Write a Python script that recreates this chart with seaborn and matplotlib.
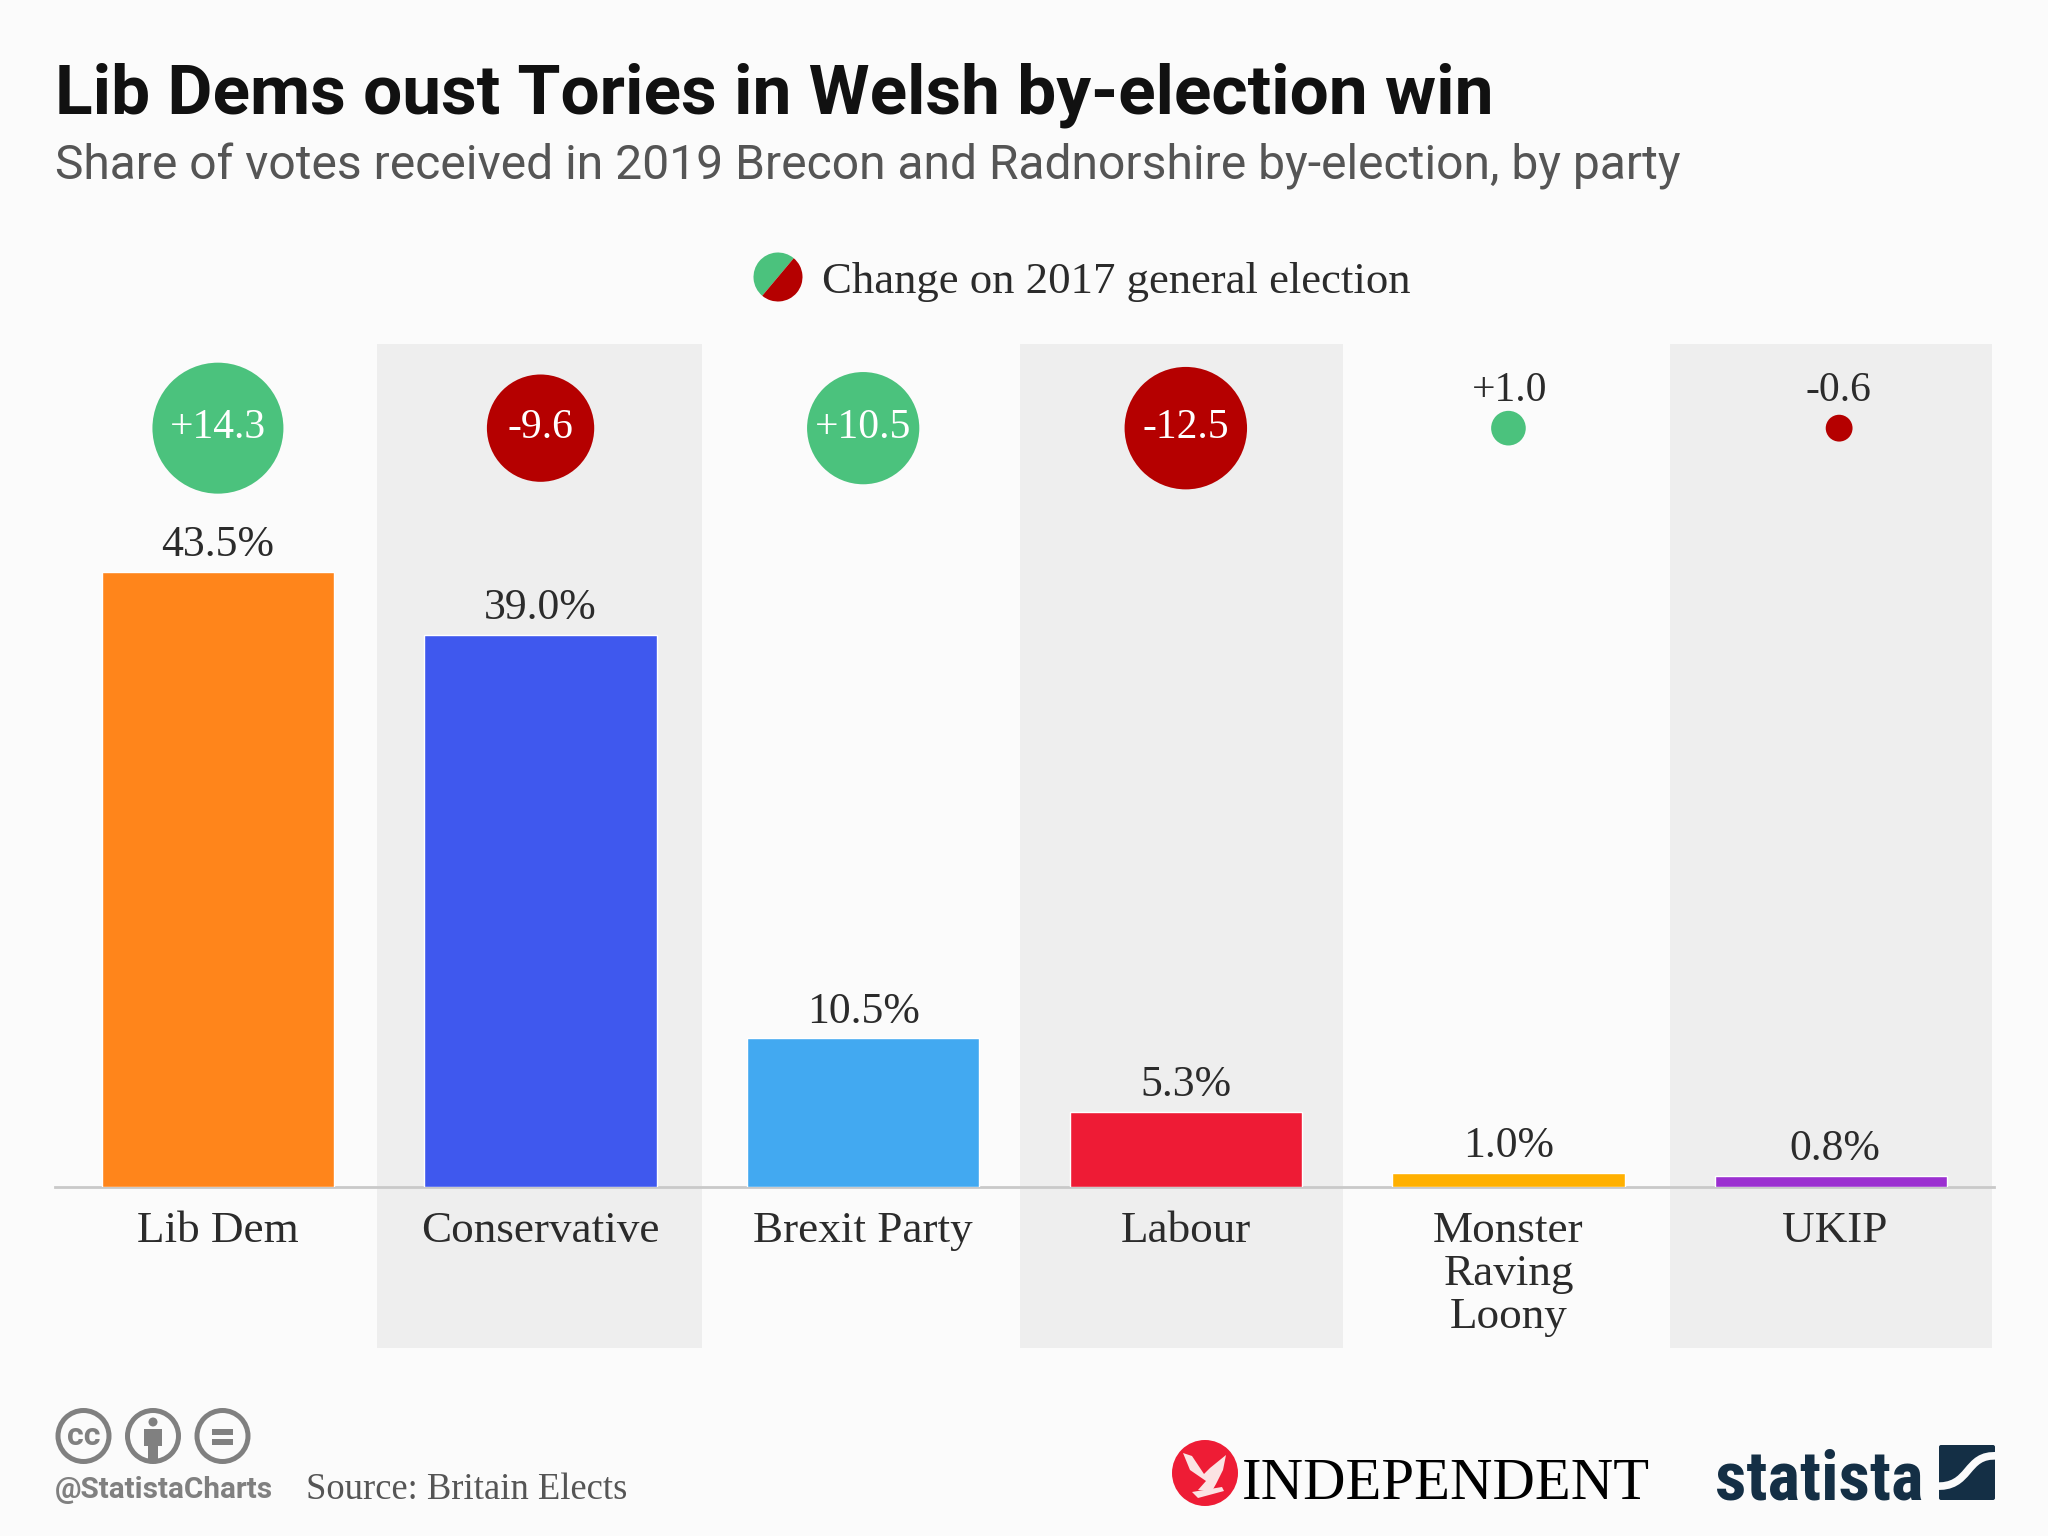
import numpy as np
import pandas as pd
import matplotlib
matplotlib.use('Agg')
import matplotlib.pyplot as plt
from matplotlib.patches import Circle, Wedge, FancyBboxPatch, PathPatch, Polygon, Rectangle
from matplotlib.path import Path
from matplotlib.transforms import ScaledTranslation
import seaborn as sns

parties = ['Lib Dem', 'Conservative', 'Brexit Party', 'Labour', 'Monster\nRaving\nLoony', 'UKIP']
shares = [43.5, 39.0, 10.5, 5.3, 1.0, 0.8]
changes = [14.3, -9.6, 10.5, -12.5, 1.0, -0.6]
change_labels = ['+14.3', '-9.6', '+10.5', '-12.5', '+1.0', '-0.6']
bar_colors = ['#ff851b', '#3f58ee', '#42a9f1', '#ee1b35', '#ffb000', '#9b30d0']

GREEN = '#4bc27d'
DARKRED = '#b50000'
BG = '#fbfbfb'
BAND = '#eeeeee'
TEXT = '#2b2b2b'
SERIF = ['Liberation Serif', 'DejaVu Serif']
SANS = ['Roboto', 'DejaVu Sans']
BUBBLE_Y = 53.65

sns.set_style('white')
plt.rcParams['font.family'] = SERIF

df = pd.DataFrame({'party': parties, 'share': shares, 'change': changes})
df['abs_change'] = df['change'].abs()
df['bubble_y'] = BUBBLE_Y
df['up'] = df['change'] > 0

W, H = 2048, 1536
fig = plt.figure(figsize=(W / 100, H / 100), dpi=100, facecolor=BG)

# plot area, baseline of the bars is the bottom spine
ax = fig.add_axes([55 / W, 1 - 1187 / H, (1994 - 55) / W, (1187 - 344) / H])
ax.set_facecolor('none')

sns.barplot(data=df, x='party', y='share', hue='party', palette=bar_colors, saturation=1,
            width=0.72, legend=False, ax=ax, zorder=3)
ax.set_xlim(-0.505, 5.505)
ax.set_ylim(0, 59.6)

# grey stripes behind every second party, they run past the baseline
for left, right in [(0.494, 1.5), (2.486, 3.486), (4.5, 5.5)]:
    ax.axvspan(left, right, ymin=-0.191, ymax=1, color=BAND, lw=0, zorder=0, clip_on=False)

for c in ax.containers:
    labs = ax.bar_label(c, fmt='%.1f%%', padding=5, fontsize=31.5, color=TEXT, zorder=5)
labs[0].xyann = (3, labs[0].xyann[1])  # UKIP label sits a bit right of its bar

# bubble area follows the size of the change
sns.scatterplot(data=df, x='party', y='bubble_y', hue='up', palette={True: GREEN, False: DARKRED},
                size='abs_change', sizes=(622 * 0.6, 622 * 14.3), size_norm=(0.6, 14.3),
                linewidth=0, legend=False, ax=ax, zorder=4, clip_on=False)
offs = ax.collections[-1].get_offsets().copy()
offs[5, 0] += 0.025
ax.collections[-1].set_offsets(offs)

for i, (lab, val) in enumerate(zip(change_labels, changes)):
    if abs(val) > 5:
        ax.annotate(lab, (i, BUBBLE_Y), ha='center', va='center', fontsize=30, color='white', zorder=6)
    else:
        ax.annotate(lab, (i + (0.02 if i == 5 else 0), BUBBLE_Y), xytext=(1, 27), textcoords='offset points',
                    ha='center', va='center', fontsize=30, color=TEXT, zorder=6)

ax.set_xlabel('')
ax.set_ylabel('')
ax.set_yticks([])
ax.tick_params(axis='x', length=0, pad=17, labelsize=32.5, labelcolor=TEXT)
for lab in ax.get_xticklabels():
    lab.set_linespacing(1.11)
ukip = ax.get_xticklabels()[5]
ukip.set_transform(ukip.get_transform() + ScaledTranslation(0.04, 0, fig.dpi_scale_trans))
sns.despine(ax=ax, left=True)
ax.spines['bottom'].set_color('#c9c9c9')
ax.spines['bottom'].set_linewidth(2)
ax.spines['bottom'].set_zorder(2)

# header, footer and logos in pixel coordinates
ov = fig.add_axes([0, 0, 1, 1], zorder=10)
ov.set_xlim(0, W)
ov.set_ylim(H, 0)
ov.axis('off')

ov.text(55, 114, 'Lib Dems oust Tories in Welsh by-election win', fontsize=50, fontweight='bold',
        family=SANS, color='#111111', va='baseline')
ov.text(55, 179, 'Share of votes received in 2019 Brecon and Radnorshire by-election, by party',
        fontsize=34.6, family=SANS, color='#555555', va='baseline')

# legend
ov.add_patch(Wedge((778, 277), 24.5, 130, 310, color=GREEN, lw=0))
ov.add_patch(Wedge((778, 277), 24.5, 310, 490, color=DARKRED, lw=0))
ov.text(822, 282, 'Change on 2017 general election', fontsize=32.2, color=TEXT, va='center')

# cc icons
GREY = '#808080'
for cx in [83.5, 153, 222.5]:
    ov.add_patch(Circle((cx, 1436), 25.5, fc='none', ec=GREY, lw=3.6))
ov.text(83.5, 1436, 'cc', fontsize=23, fontweight='bold', family=SANS,
        color=GREY, ha='center', va='center')
ov.add_patch(Circle((153, 1422), 4.5, color=GREY, lw=0))
ov.add_patch(Rectangle((144, 1429), 18, 17, color=GREY, lw=0))
ov.add_patch(Rectangle((148, 1446), 10, 13, color=GREY, lw=0))
ov.add_patch(Rectangle((212, 1429), 21, 5.5, color=GREY, lw=0))
ov.add_patch(Rectangle((212, 1439), 21, 5.5, color=GREY, lw=0))

ov.text(55, 1490, '@StatistaCharts', fontsize=21.4, fontweight='bold', family=SANS,
        color=GREY, va='center')
ov.text(306, 1490, 'Source: Britain Elects', fontsize=26.4, color='#555555', va='center')

# Independent logo
ov.add_patch(Circle((1205, 1473), 33, color='#ee1c35', lw=0))
eagle = [[(1183, 1453), (1192, 1456), (1204, 1474), (1210, 1468), (1226, 1455), (1223, 1470),
          (1216, 1484), (1212, 1491), (1198, 1490), (1206, 1481), (1190, 1470)],
         [(1192, 1492), (1222, 1487), (1224, 1491), (1198, 1498)]]
for pts in eagle:
    ov.add_patch(Polygon(pts, closed=True, color='#fbe3e3', lw=0))
ov.text(1242, 1499, 'INDEPENDENT', fontsize=42.2, color='black', va='baseline')

# statista logo
NAVY = '#142f45'
ov.text(1715, 1500, 'statista', fontsize=49.6, fontweight='bold',
        family=['Roboto Condensed', 'Liberation Sans Narrow', 'Roboto'], color=NAVY, va='baseline')
ov.add_patch(FancyBboxPatch((1941, 1447), 52, 51, boxstyle='round,pad=2', color=NAVY, lw=0))
swoosh = Path([(1998, 1456), (1964, 1453), (1972, 1489), (1934, 1486)],
              [Path.MOVETO, Path.CURVE4, Path.CURVE4, Path.CURVE4])
ov.add_patch(PathPatch(swoosh, fc='none', ec=BG, lw=5.5))

fig.savefig('out.png', dpi=100, facecolor=BG)
